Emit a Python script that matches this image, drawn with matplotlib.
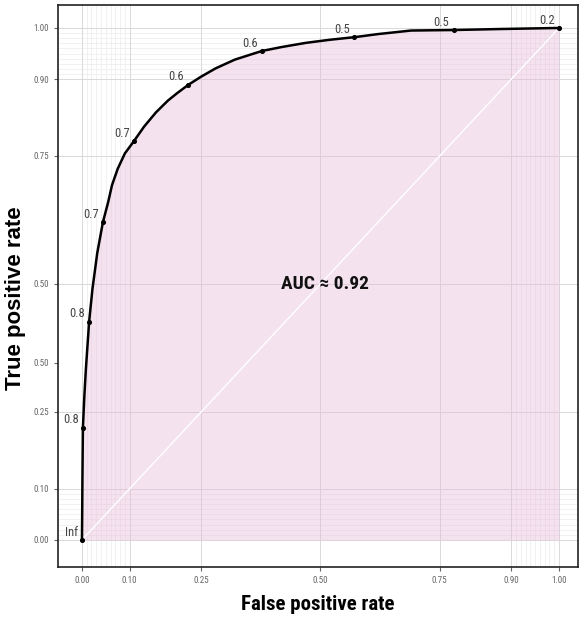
import matplotlib.pyplot as plt
from matplotlib import font_manager

# ROC curve
fpr = [0.0, 0.0005, 0.001, 0.002, 0.005, 0.008, 0.015, 0.022, 0.032, 0.044, 0.055,
       0.063, 0.075, 0.09, 0.109, 0.13, 0.155, 0.18, 0.2, 0.223, 0.25, 0.28, 0.32,
       0.35, 0.377, 0.42, 0.47, 0.52, 0.571, 0.62, 0.69, 0.779, 0.88, 1.0]
tpr = [0.0, 0.05, 0.12, 0.219, 0.28, 0.33, 0.426, 0.49, 0.56, 0.621, 0.66,
       0.693, 0.725, 0.755, 0.779, 0.807, 0.835, 0.858, 0.873, 0.889, 0.905, 0.921, 0.938,
       0.947, 0.955, 0.963, 0.971, 0.977, 0.982, 0.988, 0.995, 0.996, 0.998, 1.0]

# labelled cutoffs
cut_fpr = [0.0, 0.002, 0.015, 0.044, 0.109, 0.223, 0.377, 0.571, 0.779, 1.0]
cut_tpr = [0.0, 0.219, 0.426, 0.621, 0.779, 0.889, 0.955, 0.982, 0.996, 1.0]
cut_labels = ['Inf', '0.8', '0.8', '0.7', '0.7', '0.6', '0.6', '0.5', '0.5', '0.2']

x_ticks = [0.0, 0.10, 0.25, 0.50, 0.75, 0.90, 1.00]
x_labels = ['0.00', '0.10', '0.25', '0.50', '0.75', '0.90', '1.00']
y_ticks = [0.0, 0.10, 0.25, 0.346, 0.50, 0.75, 0.90, 1.00]
y_labels = ['0.00', '0.10', '0.25', '0.50', '0.50', '0.75', '0.90', '1.00']
minor = [0.01, 0.02, 0.03, 0.04, 0.05, 0.06, 0.07, 0.08, 0.09,
         0.91, 0.92, 0.93, 0.94, 0.95, 0.96, 0.97, 0.98, 0.99]

auc = 0.92

installed = {f.name for f in font_manager.fontManager.ttflist}
narrow = [f for f in ['Liberation Sans Narrow', 'Roboto Condensed', 'Open Sans Condensed',
                      'Liberation Sans'] if f in installed] + ['DejaVu Sans']
arial = ['Liberation Sans', 'DejaVu Sans']

fig = plt.figure(figsize=(5.81, 6.17), dpi=100)
ax = fig.add_axes([0.1, 0.081, 0.895, 0.911])

for v in minor:
    ax.axvline(v, color='#ebebeb', lw=0.5, zorder=0)
    ax.axhline(v, color='#ebebeb', lw=0.5, zorder=0)
for v in x_ticks:
    ax.axvline(v, color='#d9d9d9', lw=0.7, zorder=0)
for v in [0.0, 0.10, 0.25, 0.50, 0.75, 0.90, 1.00]:
    ax.axhline(v, color='#d9d9d9', lw=0.7, zorder=0)

ax.fill_between(fpr, tpr, 0, color='#e8b7d9', alpha=0.4, lw=0, zorder=1)
ax.plot([0, 1], [0, 1], color='white', lw=1.0, zorder=2)
ax.plot(fpr, tpr, color='black', lw=1.8, zorder=3)
ax.scatter(cut_fpr, cut_tpr, s=7, color='black', zorder=4)
for x, y, lab in zip(cut_fpr, cut_tpr, cut_labels):
    ax.annotate(lab, (x, y), xytext=(-3, 1), textcoords='offset points',
                ha='right', va='bottom', fontsize=9, color='#444444', family=narrow)

ax.text(0.51, 0.50, 'AUC \u2248 %.2f' % auc, ha='center', va='center',
        fontsize=14, fontweight='bold', color='#111111', family=narrow)

ax.set_xlim(-0.05, 1.04)
ax.set_ylim(-0.053, 1.045)
ax.set_xticks(x_ticks)
ax.set_xticklabels(x_labels)
ax.set_yticks(y_ticks)
ax.set_yticklabels(y_labels)
ax.tick_params(labelsize=6.5, colors='#666666', length=3, width=0.8)
for lab in ax.get_xticklabels() + ax.get_yticklabels():
    lab.set_family(narrow)
for s in ax.spines.values():
    s.set_color('#222222')
    s.set_linewidth(1.2)

ax.set_xlabel('False positive rate', fontsize=15, fontweight='bold', family=narrow, labelpad=7)
fig.text(0.026, 0.517, 'True positive rate', rotation=90, ha='center', va='center',
         fontsize=16, fontweight='bold', family=arial)

fig.savefig('out.png', dpi=100)
